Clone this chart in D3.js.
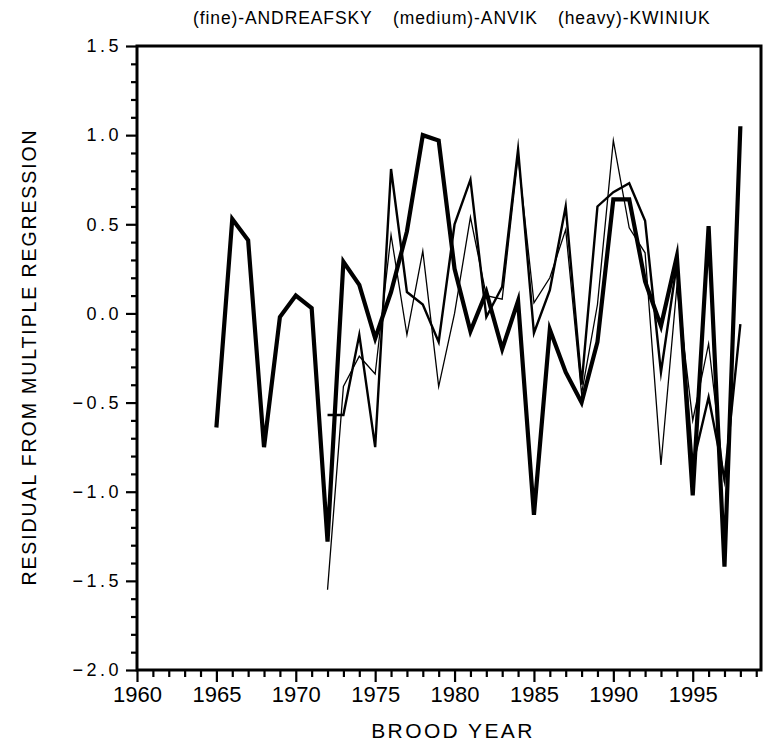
<!DOCTYPE html>
<html>
<head>
<meta charset="utf-8">
<script src="https://cdn.jsdelivr.net/npm/d3@7"></script>
<style>
html,body{margin:0;padding:0;background:#fff;}
svg{display:block;}
text{font-family:"Liberation Sans",Arial,sans-serif;fill:#000;}
</style>
</head>
<body>
<svg id="chart" width="768" height="744"></svg>
<script>
// ---- data ----
const heavyYears = d3.range(1965, 1999);
const heavyValues = [-0.64, 0.53, 0.41, -0.75, -0.02, 0.10, 0.03, -1.28, 0.29, 0.16,
  -0.14, 0.12, 0.46, 1.00, 0.97, 0.25, -0.10, 0.12, -0.20, 0.07,
  -1.13, -0.09, -0.33, -0.50, -0.16, 0.64, 0.64, 0.18, -0.07, 0.32,
  -1.02, 0.49, -1.42, 1.05];
const mediumYears = d3.range(1972, 1999);
const mediumValues = [-0.57, -0.57, -0.12, -0.75, 0.81, 0.12, 0.05, -0.16, 0.50, 0.75,
  -0.02, 0.15, 0.92, -0.11, 0.13, 0.60, -0.40, 0.60, 0.68, 0.73,
  0.52, -0.33, 0.28, -0.85, -0.47, -0.93, -0.06];
const fineYears = d3.range(1972, 1998);
const fineValues = [-1.55, -0.41, -0.24, -0.34, 0.44, -0.12, 0.35, -0.41, 0.00, 0.54,
  0.10, 0.08, 0.88, 0.06, 0.20, 0.47, -0.45, 0.05, 0.97, 0.48,
  0.34, -0.85, 0.15, -0.60, -0.17, -0.95];
const xTickLabels = [1960, 1965, 1970, 1975, 1980, 1985, 1990, 1995];
const yTickLabels = [-2.0, -1.5, -1.0, -0.5, 0.0, 0.5, 1.0, 1.5];
const titleParts = ["(fine)-ANDREAFSKY", "(medium)-ANVIK", "(heavy)-KWINIUK"];
const xTitle = "BROOD YEAR";
const yTitle = "RESIDUAL FROM MULTIPLE REGRESSION";

// ---- layout ----
const L = 137, R = 761, T = 46, B = 670;
const svg = d3.select("#chart");
const x = d3.scaleLinear().domain([1960, 1999.3]).range([L, R]);
const y = d3.scaleLinear().domain([-2.0, 1.5]).range([B, T]);

// minor ticks
const xMinor = d3.range(1960, 2000).filter(v => v % 5 !== 0);
const yMinor = d3.range(-20, 16).filter(v => v % 5 !== 0).map(v => v / 10);

const gx = svg.append("g").attr("transform", `translate(0,${B})`);
gx.call(d3.axisBottom(x).tickValues(xMinor).tickSize(7).tickFormat("").tickSizeOuter(0));
gx.append("g").call(d3.axisBottom(x).tickValues(xTickLabels).tickSize(12).tickSizeOuter(0).tickPadding(4).tickFormat(d3.format("d")));
gx.selectAll("path.domain").remove();
gx.selectAll("line").attr("stroke", "#000").attr("stroke-width", 2.2);
gx.selectAll("text").attr("font-size", 22).attr("font-family", "Liberation Sans, Arial, sans-serif").attr("fill", "#000");

const gy = svg.append("g").attr("transform", `translate(${L},0)`);
gy.call(d3.axisLeft(y).tickValues(yMinor).tickSize(6).tickFormat("").tickSizeOuter(0));
gy.append("g").call(d3.axisLeft(y).tickValues(yTickLabels).tickSize(11).tickSizeOuter(0).tickPadding(4).tickFormat(d3.format(".1f")));
gy.selectAll("path.domain").remove();
gy.selectAll("line").attr("stroke", "#000").attr("stroke-width", 2.2);
gy.selectAll("text").attr("font-size", 18).attr("letter-spacing", "3.5px").attr("font-family", "Liberation Sans, Arial, sans-serif").attr("fill", "#000");

// frame
svg.append("rect").attr("x", L).attr("y", T).attr("width", R - L).attr("height", B - T)
  .attr("fill", "none").attr("stroke", "#000").attr("stroke-width", 3);

// lines
const line = d3.line().x(d => x(d[0])).y(d => y(d[1]));
const series = [
  {years: fineYears, values: fineValues, w: 1.3},
  {years: mediumYears, values: mediumValues, w: 2.4},
  {years: heavyYears, values: heavyValues, w: 4.2}
];
series.forEach(s => {
  svg.append("path")
    .datum(s.years.map((yr, i) => [yr, s.values[i]]))
    .attr("d", line)
    .attr("fill", "none")
    .attr("stroke", "#000")
    .attr("stroke-width", s.w)
    .attr("stroke-linejoin", "miter")
    .attr("stroke-miterlimit", 10);
});

// titles
const titleX = [193, 393, 558];
titleParts.forEach((t, i) => {
  svg.append("text").attr("x", titleX[i]).attr("y", 24)
    .attr("font-size", 17.5).attr("letter-spacing", "0.9px").text(t);
});
svg.append("text").attr("x", 453).attr("y", 738).attr("text-anchor", "middle")
  .attr("font-size", 21).attr("letter-spacing", "2.4px").text(xTitle);
svg.append("text").attr("transform", "translate(36,357) rotate(-90)").attr("text-anchor", "middle")
  .attr("font-size", 19.5).attr("letter-spacing", "1.9px").text(yTitle);
</script>
</body>
</html>
